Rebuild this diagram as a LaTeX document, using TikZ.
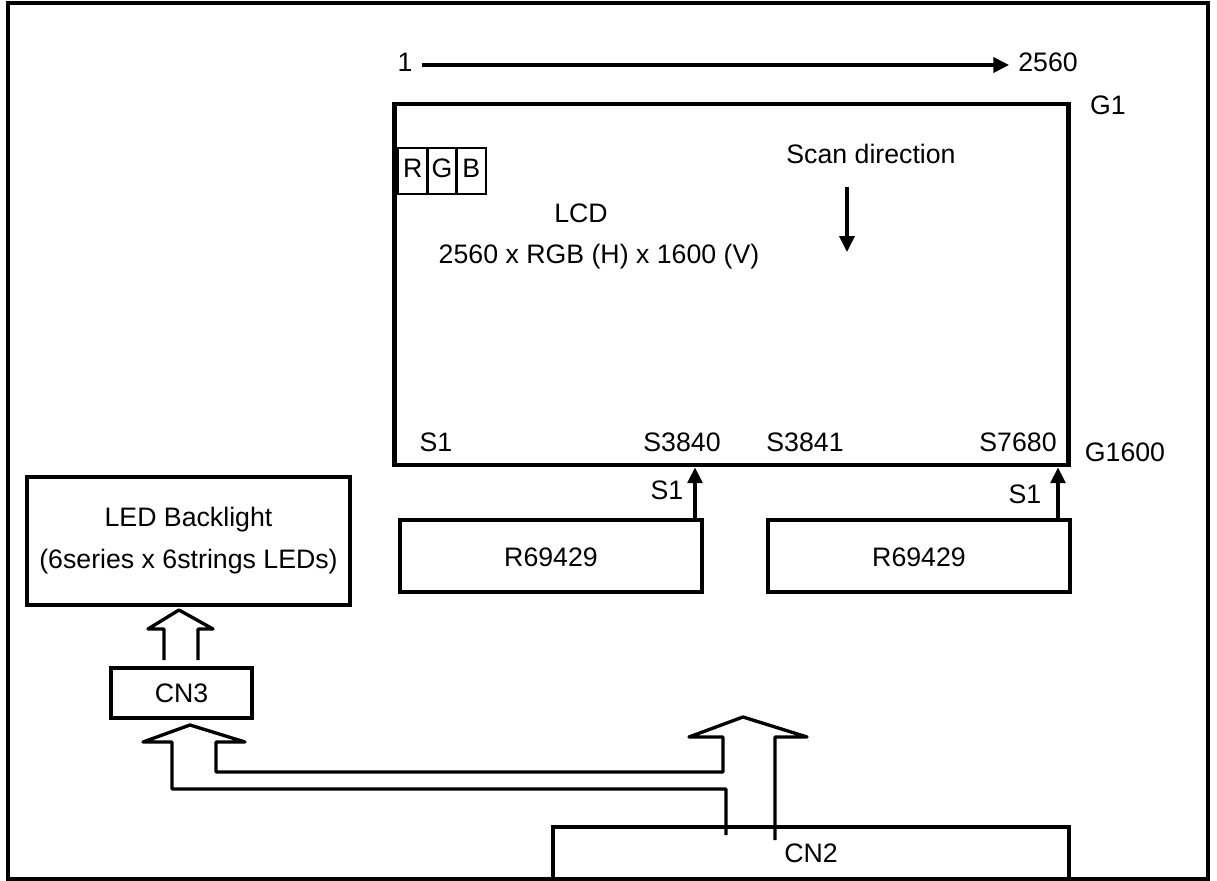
\documentclass[tikz,border=0pt]{standalone}
\usepackage{fontspec}
\setmainfont{Liberation Sans}
\usetikzlibrary{arrows.meta}

\tikzset{
  lbl/.style={font=\fontsize{15.2}{18}\selectfont,inner sep=0pt,text height=0.72em,text depth=0pt},
  cell/.style={lbl,draw,line width=1.5pt,minimum width=0.586cm,minimum height=0.92cm},
  lcdbox/.style={draw,line width=2.8pt,minimum width=13.5cm,minimum height=7.22cm},
  chip/.style={lbl,text height=1.2em,draw,line width=2.8pt,minimum width=6.04cm,minimum height=1.44cm},
  ledbox/.style={draw,line width=2.5pt,minimum width=6.46cm,minimum height=2.56cm,align=center,font=\fontsize{15.2}{24}\selectfont},
  conbox/.style={lbl,text height=1.1em,draw,line width=1.9pt},
  sig/.style={line width=1.9pt,-{Triangle[length=9pt,width=8.5pt]}},
  hollow/.style={line width=1.9pt,line join=round}
}

\begin{document}
\begin{tikzpicture}[x=0.02cm,y=-0.02cm]
\useasboundingbox (0,0) rectangle (1217,881);
\draw[line width=1.9pt] (8,3) rectangle (1208,879);

% panel
\node[lcdbox] (lcd) at (731.5,284.5) {};
\node[lbl,inner xsep=5pt] (n1) at (405,65) {1};
\node[lbl,inner xsep=5pt] (n2560) at (1048,65) {2560};
\draw[sig,line width=2.2pt] (n1) -- (n2560);
\node[lbl] (g1) at (1108,108) {G1};
\node[lbl] (g1600) at (1125,455) {G1600};
\foreach \c [count=\i] in {R,G,B}
  \node[cell] (rgb\i) at ({412.65+(\i-1)*29.3},171) {\c};
\node[lbl] (lcdname) at (581,216) {LCD};
\node[lbl] (lcdres) at (599,257) {2560 x RGB (H) x 1600 (V)};
\node[lbl] (scan) at (871,157) {Scan direction};
\coordinate (scantop) at (847,187);
\coordinate (scanend) at (847,252);
\draw[sig] (scantop) -- (scanend);
\foreach \x/\t in {436/S1,682/S3840,805/S3841,1018/S7680}
  \node[lbl] (src\t) at (\x,445) {\t};

% source drivers
\node[chip] (chipA) at (551,556) {R69429};
\node[chip] (chipB) at (919,556) {R69429};
\coordinate (outA) at (695,520);
\coordinate (outB) at (1058,520);
\draw[sig] (outA) -- (outA |- lcd.south);
\draw[sig] (outB) -- (outB |- lcd.south);
\node[lbl] (pinA) at (667,493) {S1};
\node[lbl] (pinB) at (1025,497) {S1};

% backlight
\node[ledbox] (led) at (188.5,541) {LED Backlight\\(6series x 6strings LEDs)};
\node[conbox,minimum width=2.82cm,minimum height=1cm] (cn3) at (181.5,693) {CN3};
\draw[hollow] (164,660) -- (164,629) -- (148,629) -- (179,610) -- (213,629) -- (198,629) -- (198,660);

% connector
\node[conbox,minimum width=10.32cm,minimum height=1.04cm] (cn2) at (811,853) {CN2};
\draw[hollow] (726,835) -- (726,789) -- (172,789) -- (172,742) -- (143,742) -- (190,725)
  -- (245,742) -- (216,742) -- (216,772) -- (723,772) -- (723,737) -- (689,737)
  -- (743,717) -- (807,737) -- (775,737) -- (775,840);
\end{tikzpicture}
\end{document}
